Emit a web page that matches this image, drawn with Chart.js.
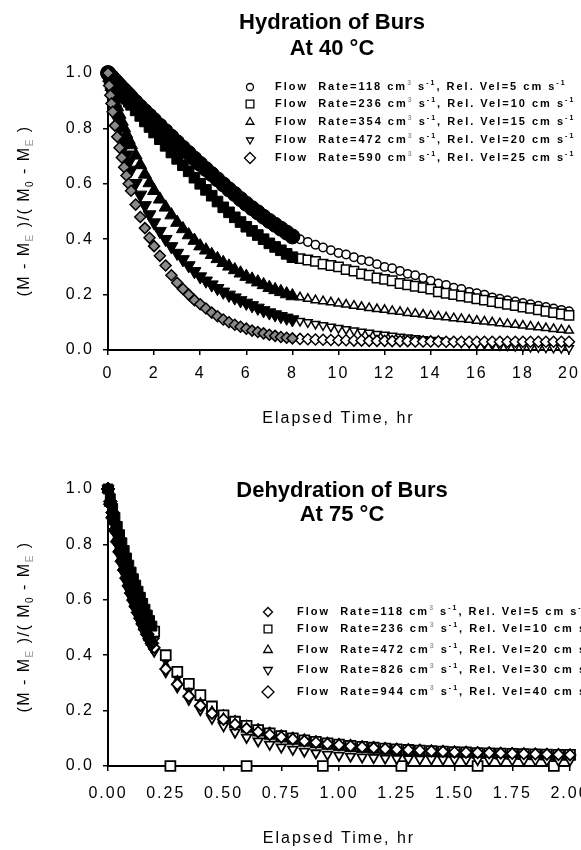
<!DOCTYPE html>
<html>
<head>
<meta charset="utf-8">
<script src="https://cdn.jsdelivr.net/npm/chart.js"></script>
<style>
  body { margin: 0; background: #fff; }
  canvas { display: block; }
</style>
</head>
<body>
<canvas id="hydChart" width="581" height="430"></canvas>
<canvas id="dehChart" width="581" height="420"></canvas>
<script>
// ---- hydration at 40 C ----
var hydFlow = [118, 236, 354, 472, 590];
var hydVel = [5, 10, 15, 20, 25];
var hydXTicks = [0, 2, 4, 6, 8, 10, 12, 14, 16, 18, 20];
var yTicks = [0, 0.2, 0.4, 0.6, 0.8, 1.0];

var hydTimeDense = [0, 0.05, 0.1, 0.15, 0.2, 0.3, 0.4, 0.5, 0.6, 0.7, 0.8, 0.9, 1.0, 1.2, 1.4, 1.6, 1.8, 2.0,
  2.25, 2.5, 2.75, 3.0, 3.25, 3.5, 3.75, 4.0, 4.25, 4.5, 4.75, 5.0, 5.25, 5.5, 5.75, 6.0, 6.25, 6.5, 6.75, 7.0, 7.25, 7.5, 7.75, 8.0];
var hydTimeLate = [8.33, 8.67, 9, 9.33, 9.67, 10, 10.33, 10.67, 11, 11.33, 11.67, 12, 12.33, 12.67, 13, 13.33, 13.67, 14,
  14.33, 14.67, 15, 15.33, 15.67, 16, 16.33, 16.67, 17, 17.33, 17.67, 18, 18.33, 18.67, 19, 19.33, 19.67, 20];

var hyd118 = [1.00, .995, .99, .986, .982, .973, .964, .955, .946, .938, .929, .921, .912, .895, .878, .862, .846, .83,
  .81, .79, .77, .75, .73, .711, .691, .672, .653, .635, .616, .598, .58, .563, .545, .528, .512, .497, .481, .466, .452, .438, .424, .41];
var hyd236 = [1.00, .994, .988, .982, .976, .964, .952, .94, .929, .918, .907, .896, .885, .865, .845, .825, .805, .785,
  .761, .737, .713, .69, .667, .645, .622, .60, .578, .557, .536, .515, .497, .479, .462, .445, .43, .415, .40, .385, .372, .36, .347, .335];
var hyd354 = [1.00, .983, .966, .95, .935, .905, .877, .85, .825, .801, .779, .759, .74, .703, .668, .634, .603, .575,
  .544, .515, .487, .46, .437, .415, .395, .375, .36, .344, .329, .315, .302, .289, .277, .265, .255, .245, .235, .225, .217, .21, .202, .195];
var hyd472 = [1.00, .975, .952, .93, .91, .87, .834, .80, .767, .735, .705, .677, .65, .602, .56, .522, .489, .46,
  .429, .40, .374, .35, .327, .305, .284, .265, .25, .236, .223, .21, .199, .189, .179, .17, .161, .152, .143, .135, .128, .122, .116, .11];
var hyd590 = [1.00, .955, .92, .89, .86, .81, .77, .73, .695, .66, .63, .60, .575, .525, .48, .44, .405, .375,
  .34, .305, .27, .243, .22, .20, .18, .165, .15, .135, .122, .11, .10, .091, .084, .077, .07, .065, .06, .055, .051, .047, .044, .042];

var hyd118Late = [.40, .39, .38, .37, .36, .35, .345, .335, .325, .32, .31, .30, .295, .285, .275, .27, .26, .25,
  .24, .235, .225, .22, .21, .205, .20, .19, .185, .18, .175, .17, .165, .16, .155, .15, .145, .14];
var hyd236Late = [.33, .325, .32, .31, .305, .30, .29, .285, .275, .27, .26, .255, .25, .24, .235, .23, .225, .22,
  .21, .205, .20, .195, .19, .185, .18, .175, .17, .165, .16, .155, .15, .145, .14, .135, .13, .125];
var hyd354Late = [.19, .185, .18, .176, .172, .168, .164, .16, .156, .152, .148, .145, .141, .138, .134, .131, .128, .124,
  .121, .118, .115, .112, .109, .106, .103, .10, .097, .094, .091, .088, .085, .082, .079, .076, .073, .07];
var hyd472Late = [.105, .10, .094, .089, .084, .079, .075, .07, .066, .062, .058, .055, .051, .048, .045, .042, .039, .036,
  .034, .031, .029, .027, .025, .023, .021, .019, .017, .016, .014, .013, .011, .01, .009, .008, .007, .006];
var hyd590Late = [.04, .039, .038, .037, .036, .035, .035, .034, .034, .033, .033, .033, .032, .032, .032, .031, .031, .031,
  .031, .03, .03, .03, .03, .03, .03, .03, .03, .03, .03, .03, .03, .03, .03, .03, .03, .03];

// ---- dehydration at 75 C ----
var dehFlow = [118, 236, 472, 826, 944];
var dehVel = [5, 10, 20, 30, 40];
var dehXTicks = [0, 0.25, 0.5, 0.75, 1.0, 1.25, 1.5, 1.75, 2.0];

var dehTimeDense = [0, 0.01, 0.02, 0.03, 0.04, 0.05, 0.06, 0.07, 0.08, 0.09, 0.10, 0.11, 0.12, 0.13, 0.14, 0.15, 0.16, 0.17, 0.18, 0.19];
var dehTimeLate = [0.20, 0.25, 0.30, 0.35, 0.40, 0.45, 0.50, 0.55, 0.60, 0.65, 0.70, 0.75, 0.80, 0.85, 0.90, 0.95, 1.00,
  1.05, 1.10, 1.15, 1.20, 1.25, 1.30, 1.35, 1.40, 1.45, 1.50, 1.55, 1.60, 1.65, 1.70, 1.75, 1.80, 1.85, 1.90, 1.95, 2.00];
var dehZeroTimes = [0.27, 0.60, 0.93, 1.27, 1.60, 1.93];
var dehZeroValues = [0, 0, 0, 0, 0, 0];

var deh118 = [1.00, .955, .915, .877, .842, .808, .776, .746, .717, .69, .664, .639, .615, .592, .57, .549, .529, .51, .492, .475];
var deh236 = [1.00, .965, .93, .897, .865, .835, .806, .778, .751, .725, .70, .676, .653, .631, .609, .587, .566, .545, .525, .505];
var deh472 = [1.00, .95, .905, .863, .824, .788, .754, .722, .692, .664, .637, .612, .588, .565, .543, .522, .502, .483, .465, .448];
var deh826 = [1.00, .94, .888, .842, .80, .762, .727, .695, .665, .637, .611, .586, .563, .541, .52, .50, .481, .463, .446, .43];
var deh944 = [1.00, .945, .896, .851, .81, .773, .739, .707, .678, .65, .624, .599, .576, .554, .533, .513, .494, .476, .459, .443];

var deh118Late = [.46, .385, .325, .28, .243, .212, .186, .165, .148, .135, .123, .113, .105, .098, .092, .087, .082,
  .078, .074, .071, .068, .065, .063, .061, .059, .057, .055, .054, .052, .051, .05, .049, .048, .047, .046, .045, .044];
var deh236Late = [.485, .40, .34, .297, .256, .215, .183, .16, .145, .13, .118, .108, .10, .093, .087, .082, .077,
  .073, .069, .066, .063, .06, .058, .056, .054, .052, .05, .049, .047, .046, .045, .044, .043, .042, .041, .04, .04];
var deh472Late = [.432, .36, .305, .26, .225, .195, .17, .15, .133, .12, .108, .098, .09, .083, .077, .072, .068,
  .064, .061, .058, .055, .053, .051, .049, .047, .046, .044, .043, .042, .041, .04, .039, .038, .037, .036, .036, .035];
var deh826Late = [.414, .34, .285, .24, .203, .172, .145, .122, .103, .09, .078, .068, .06, .053, .047, .042, .038,
  .035, .032, .03, .028, .027, .026, .025, .025, .024, .024, .023, .023, .023, .022, .022, .022, .022, .021, .021, .021];
var deh944Late = [.427, .35, .295, .252, .218, .19, .168, .15, .135, .123, .113, .104, .097, .09, .085, .08, .076,
  .072, .068, .065, .062, .06, .058, .056, .054, .052, .05, .049, .048, .047, .046, .045, .044, .043, .042, .041, .04];

// marker looks
var hydMarks = [
  { style: 'circle', rot: 0, r: 4.2, legR: 3.5, denseFill: '#000' },
  { style: 'rect', rot: 0, r: 6.6, legR: 5.5, denseFill: '#000' },
  { style: 'triangle', rot: 0, r: 5, legR: 4.5, denseFill: '#000' },
  { style: 'triangle', rot: 180, r: 5, legR: 4, denseFill: '#000' },
  { style: 'rectRot', rot: 0, r: 5.5, legR: 5.5, denseFill: '#8a8a8a' }
];
var dehMarks = [
  { style: 'rectRot', rot: 0, r: 4.5, legR: 4.5, denseFill: '#000' },
  { style: 'rect', rot: 0, r: 7, legR: 5.5, denseFill: '#000' },
  { style: 'triangle', rot: 0, r: 5.5, legR: 5, denseFill: '#000' },
  { style: 'triangle', rot: 180, r: 5.5, legR: 5, denseFill: '#000' },
  { style: 'rectRot', rot: 0, r: 5.5, legR: 6, denseFill: '#000' }
];

var FONT = '"Liberation Sans", Arial, sans-serif';
Chart.defaults.font.family = FONT;
Chart.defaults.color = '#000';

function pair(xs, ys) {
  return xs.map(function (x, i) { return { x: x, y: ys[i] }; });
}

function buildSets(denseT, dense, lateT, late, marks, denseR, lateBorder, extra) {
  var sets = [];
  dense.forEach(function (ys, i) {
    var m = marks[i];
    var grey = m.denseFill !== '#000';
    sets.push({
      data: pair(denseT, ys),
      pointStyle: m.style, rotation: m.rot,
      pointRadius: grey ? 5.5 : denseR,
      backgroundColor: m.denseFill,
      borderColor: '#000', borderWidth: grey ? 1.5 : 1,
      order: 20 - i, clip: false
    });
  });
  late.forEach(function (ys, i) {
    var m = marks[i];
    var pts = pair(lateT, ys);
    if (extra && extra[i]) pts = pts.concat(extra[i]);
    sets.push({
      data: pts,
      pointStyle: m.style, rotation: m.rot,
      pointRadius: m.r,
      backgroundColor: '#fff',
      borderColor: '#000', borderWidth: lateBorder,
      order: 20 - i, clip: false
    });
  });
  return sets;
}

function legendParts(flow, vel) {
  return [['Flow  Rate=' + flow + ' cm', 0], ['3', 1, '#999'], [' s', 0], ['-1', 1],
    [', Rel. Vel=' + vel + ' cm s', 0], ['-1', 1]];
}

var yTitleParts = [['(M - M', 0], ['E', -1, '#999'], [' )/( M', 0], ['0', -1], [' - M', 0], ['E', -1, '#999'], [' )', 0]];

function richWidth(ctx, parts, size, weight) {
  var w = 0;
  parts.forEach(function (p) {
    var s = p[1] ? Math.round(size * 0.62) : size;
    ctx.font = weight + ' ' + s + 'px ' + FONT;
    w += ctx.measureText(p[0]).width;
  });
  return w;
}

function drawRich(ctx, parts, x, y, size, weight) {
  var cx = x;
  parts.forEach(function (p) {
    var s = p[1] ? Math.round(size * 0.62) : size;
    ctx.font = weight + ' ' + s + 'px ' + FONT;
    ctx.fillStyle = p[2] || '#000';
    var dy = p[1] === 1 ? -size * 0.38 : (p[1] === -1 ? size * 0.3 : 0);
    ctx.fillText(p[0], cx, y + dy);
    cx += ctx.measureText(p[0]).width;
  });
}

var burDecor = {
  id: 'burDecor',
  beforeDraw: function (chart) {
    chart.ctx.letterSpacing = '2px';
  },
  afterDraw: function (chart, args, o) {
    var ctx = chart.ctx;
    ctx.save();
    ctx.textBaseline = 'alphabetic';
    ctx.textAlign = 'center';
    ctx.letterSpacing = '0px';
    ctx.fillStyle = '#000';
    ctx.font = 'bold 22px ' + FONT;
    o.title.forEach(function (t, i) { ctx.fillText(t, o.titleX, o.titleY[i]); });

    // rotated y title
    ctx.textAlign = 'left';
    ctx.textBaseline = 'middle';
    ctx.letterSpacing = '1.5px';
    ctx.save();
    ctx.translate(o.yTitleX, o.yTitleY);
    ctx.rotate(-Math.PI / 2);
    var w = richWidth(ctx, yTitleParts, 16, 'normal');
    drawRich(ctx, yTitleParts, -w / 2, 0, 16, 'normal');
    ctx.restore();

    // legend
    o.legend.forEach(function (parts, i) {
      var m = o.marks[i];
      ctx.fillStyle = '#fff';
      ctx.strokeStyle = '#000';
      ctx.lineWidth = 1.3;
      Chart.helpers.drawPoint(ctx, { pointStyle: m.style, rotation: m.rot, radius: m.legR, borderWidth: 1.3 }, o.symX, o.rows[i]);
      ctx.letterSpacing = '2px';
      drawRich(ctx, parts, o.textX, o.rows[i], 11, 'bold');
    });
    ctx.restore();
  }
};

function makeScales(xTicks, digits, xMax, xHeight, labelPad) {
  return {
    x: {
      type: 'linear', min: 0, max: xMax,
      afterBuildTicks: function (s) { s.ticks = xTicks.map(function (v) { return { value: v }; }); },
      afterFit: function (s) { s.height = xHeight; s.paddingLeft = 0; s.paddingRight = 0; },
      ticks: {
        maxRotation: 0, autoSkip: false, padding: labelPad, color: '#000',
        font: { size: 16 },
        callback: function (v) { return Number(v).toFixed(digits); }
      },
      grid: { drawOnChartArea: false, drawTicks: true, tickLength: 5, color: '#000', lineWidth: 1.5 },
      border: { display: true, color: '#000', width: 2 },
      title: { display: true, text: 'Elapsed Time, hr', color: '#000', font: { size: 16 }, padding: { top: 0, bottom: 2 } }
    },
    y: {
      type: 'linear', min: 0, max: 1,
      afterBuildTicks: function (s) { s.ticks = yTicks.map(function (v) { return { value: v }; }); },
      afterFit: function (s) { s.width = 108; s.paddingTop = 0; s.paddingBottom = 0; },
      ticks: {
        padding: 9, color: '#000', font: { size: 16 },
        callback: function (v) { return Number(v).toFixed(1); }
      },
      grid: { drawOnChartArea: false, drawTicks: true, tickLength: 5, color: '#000', lineWidth: 1.5 },
      border: { display: true, color: '#000', width: 2 }
    }
  };
}

new Chart(document.getElementById('hydChart'), {
  type: 'scatter',
  data: {
    datasets: buildSets(hydTimeDense, [hyd118, hyd236, hyd354, hyd472, hyd590],
      hydTimeLate, [hyd118Late, hyd236Late, hyd354Late, hyd472Late, hyd590Late], hydMarks, 7.5, 1.5, null)
  },
  options: {
    responsive: false, animation: false, devicePixelRatio: 1, events: [],
    layout: { padding: { top: 73, right: 12, bottom: 0, left: 0 } },
    scales: makeScales(hydXTicks, 0, 20, 80, 9),
    plugins: {
      legend: { display: false }, tooltip: { enabled: false },
      burDecor: {
        title: ['Hydration of Burs', 'At 40 \u00B0C'], titleX: 332, titleY: [29, 55],
        yTitleX: 25, yTitleY: 211,
        legend: hydFlow.map(function (f, i) { return legendParts(f, hydVel[i]); }),
        marks: hydMarks, symX: 250, textX: 275, rows: [87, 104, 122, 140, 158]
      }
    }
  },
  plugins: [burDecor]
});

new Chart(document.getElementById('dehChart'), {
  type: 'scatter',
  data: {
    datasets: buildSets(dehTimeDense, [deh118, deh236, deh472, deh826, deh944],
      dehTimeLate, [deh118Late, deh236Late, deh472Late, deh826Late, deh944Late], dehMarks, 7, 1.8,
      [null, pair(dehZeroTimes, dehZeroValues)])
  },
  options: {
    responsive: false, animation: false, devicePixelRatio: 1, events: [],
    layout: { padding: { top: 59, right: 11, bottom: 0, left: 0 } },
    scales: makeScales(dehXTicks, 2, 2, 84, 13),
    plugins: {
      legend: { display: false }, tooltip: { enabled: false },
      burDecor: {
        title: ['Dehydration of Burs', 'At 75 \u00B0C'], titleX: 342, titleY: [67, 91],
        yTitleX: 25, yTitleY: 197,
        legend: dehFlow.map(function (f, i) { return legendParts(f, dehVel[i]); }),
        marks: dehMarks, symX: 268, textX: 297, rows: [182, 199, 220, 240, 262]
      }
    }
  },
  plugins: [burDecor]
});
</script>
</body>
</html>
